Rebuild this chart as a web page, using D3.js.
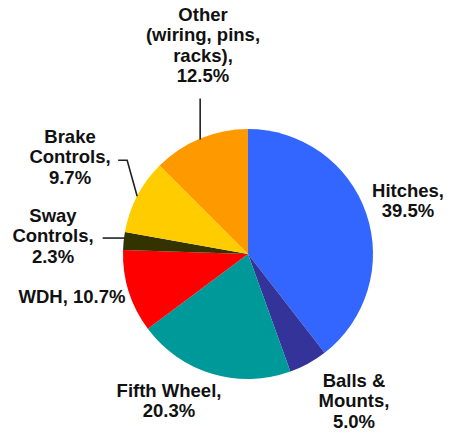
<!DOCTYPE html>
<html>
<head>
<meta charset="utf-8">
<script src="https://cdnjs.cloudflare.com/ajax/libs/d3/7.8.5/d3.min.js"></script>
<style>
  body { margin: 0; background: #fff; }
  text { font-family: "Liberation Sans", Arial, sans-serif; font-weight: bold; font-size: 18.5px; fill: #111; }
</style>
</head>
<body>
<div id="chart"></div>
<script>
const width = 449;
const height = 435;

// data, clockwise from 12 o'clock
const categories = ["Hitches", "Balls & Mounts", "Fifth Wheel", "WDH", "Sway Controls", "Brake Controls", "Other (wiring, pins, racks)"];
const shares = [39.5, 5.0, 20.3, 10.7, 2.3, 9.7, 12.5];
const colors = ["#3366ff", "#333399", "#009999", "#ff0000", "#333300", "#ffcc00", "#ff9900"];

// label text broken into lines as in the picture
const labelLines = [
    ["Hitches,", "39.5%"],
    ["Balls &", "Mounts,", "5.0%"],
    ["Fifth Wheel,", "20.3%"],
    ["WDH, 10.7%"],
    ["Sway", "Controls,", "2.3%"],
    ["Brake", "Controls,", "9.7%"],
    ["Other", "(wiring, pins,", "racks),", "12.5%"]
];
// label centre x / first baseline y, relative to the pie centre
const labelPos = [[160, -57], [106, 133], [-79, 143], [-176, 49], [-195, -32], [-178, -111], [-45, -233]];

const cx = 248, cy = 254, radius = 125;
const lineH = 20.4;

const svg = d3.select("#chart").append("svg")
    .attr("width", width)
    .attr("height", height);

const g = svg.append("g").attr("transform", `translate(${cx},${cy})`);

const pie = d3.pie().sort(null).value(d => d)(shares);
const arc = d3.arc().innerRadius(0).outerRadius(radius);

g.selectAll("path.slice")
    .data(pie)
    .enter().append("path")
    .attr("class", "slice")
    .attr("d", arc)
    .attr("fill", (d, i) => colors[i]);

// point on the rim at the middle of a slice
function rim(d, r) {
    const a = (d.startAngle + d.endAngle) / 2;
    return [r * Math.sin(a), -r * Math.cos(a)];
}

// leader lines (only some slices have them)
const leaders = g.append("g")
    .attr("fill", "none")
    .attr("stroke", "#222")
    .attr("stroke-width", 1.6);

// Other: straight up
let p = rim(pie[6], radius);
leaders.append("path").attr("d", `M${p[0]},${p[1] + 1}V${p[1] - 40}`);
// Brake Controls: up and left, then a short tick
p = rim(pie[5], radius);
leaders.append("path").attr("d", `M${p[0]},${p[1]}L${p[0] - 10},${p[1] - 36}h-9`);
// Sway Controls: horizontal
p = rim(pie[4], radius);
leaders.append("path").attr("d", `M${p[0] + 1},${p[1] - 3}H${p[0] - 21}`);

// labels
const labels = g.selectAll("text.lbl")
    .data(labelLines)
    .enter().append("text")
    .attr("class", "lbl")
    .attr("text-anchor", "middle")
    .attr("x", (d, i) => labelPos[i][0])
    .attr("y", (d, i) => labelPos[i][1]);

labels.each(function (lines, i) {
    d3.select(this).selectAll("tspan")
        .data(lines)
        .enter().append("tspan")
        .attr("x", labelPos[i][0])
        .attr("y", (t, j) => labelPos[i][1] + j * lineH)
        .text(t => t);
});
</script>
</body>
</html>
